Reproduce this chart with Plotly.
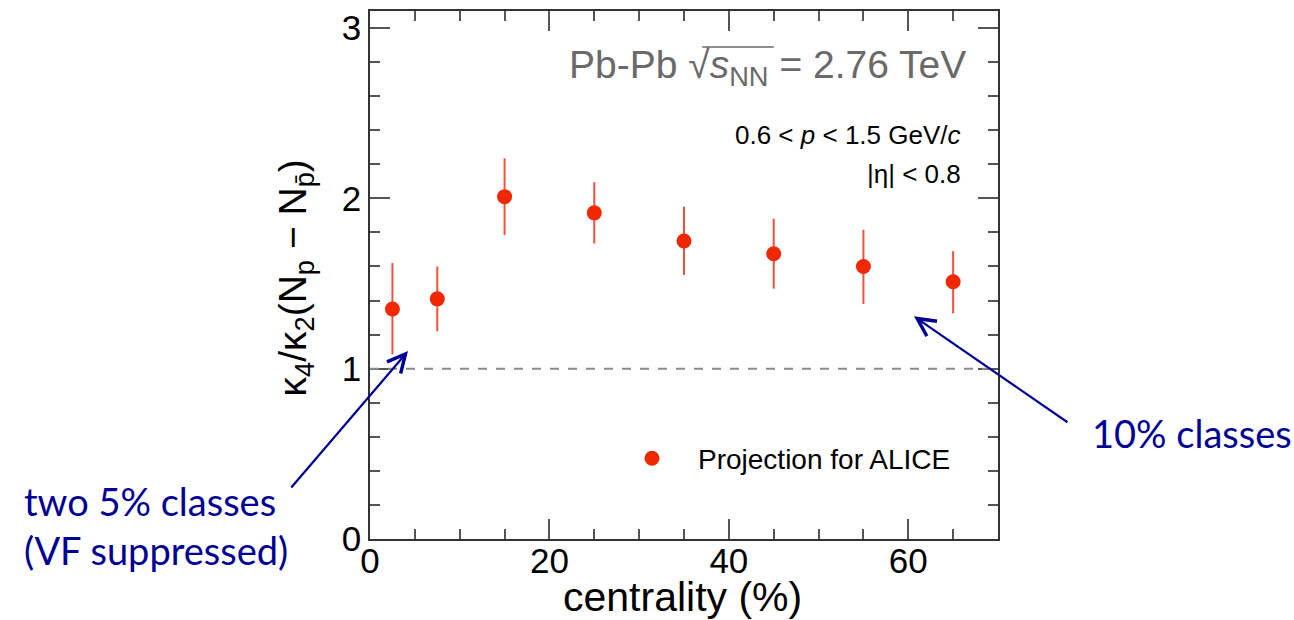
import plotly.graph_objects as go

# Centrality classes (%) and projected kappa4/kappa2 for net protons
centrality = [2.5, 7.5, 15, 25, 35, 45, 55, 65]
ratio = [1.35, 1.41, 2.01, 1.915, 1.75, 1.675, 1.60, 1.51]
err_up = [0.27, 0.19, 0.225, 0.18, 0.20, 0.205, 0.215, 0.18]
err_down = [0.265, 0.19, 0.225, 0.18, 0.20, 0.205, 0.22, 0.185]

x_ticks = [0, 20, 40, 60]
y_ticks = [0, 1, 2, 3]
baseline = 1.0

FONT = "Liberation Sans, Arial, Helvetica, sans-serif"
RED = "#f02800"
NAVY = "#000094"
GREY_TXT = "#6a6a6a"

fig = go.Figure()
fig.add_trace(go.Scatter(
    x=centrality, y=ratio, mode="markers",
    name="Projection for ALICE",
    marker=dict(color=RED, size=15),
    error_y=dict(type="data", symmetric=False, array=err_up, arrayminus=err_down,
                 color="#f2503c", thickness=2, width=0),
))

# Poisson baseline
fig.add_shape(type="line", xref="paper", x0=0, x1=1, yref="y", y0=baseline, y1=baseline,
              line=dict(color="#8a8a8a", width=2, dash="dash"))

# bar of the square-root sign over s_NN
fig.add_shape(type="line", xref="paper", yref="paper", x0=0.529, x1=0.643,
              y0=0.932, y1=0.932, line=dict(color=GREY_TXT, width=1.5))

axis_common = dict(showline=True, linecolor="#333333", linewidth=1.5, mirror="allticks",
                   ticks="inside", ticklen=20, tickwidth=1.5, tickcolor="#555555",
                   showgrid=False, zeroline=False,
                   tickfont=dict(family=FONT, size=35, color="black"))

fig.update_xaxes(range=[0, 70], tickvals=x_ticks, ticktext=[str(v) for v in x_ticks],
                 ticklabelstandoff=-10,
                 minor=dict(dtick=5, tick0=0, ticks="inside", ticklen=10, tickwidth=1.5,
                            tickcolor="#555555", showgrid=False),
                 **axis_common)
fig.update_yaxes(range=[0, 3.1], tickvals=y_ticks, ticktext=[str(v) for v in y_ticks],
                 minor=dict(dtick=0.2, tick0=0, ticks="inside", ticklen=10, tickwidth=1.5,
                            tickcolor="#555555", showgrid=False),
                 **axis_common)

annotations = [
    dict(text="centrality (%)", x=0.498, y=-0.109, xref="paper", yref="paper",
         showarrow=False, font=dict(family=FONT, size=41, color="black"),
         xanchor="center", yanchor="middle"),
    dict(text="κ<sub>4</sub>/κ<sub>2</sub>(N<sub>p</sub> − N<sub>p̄</sub>)",
         x=-0.1194, y=0.4934, xref="paper", yref="paper", textangle=-90,
         showarrow=False, font=dict(family=FONT, size=39, color="black"),
         xanchor="center", yanchor="middle"),
    dict(text="Pb-Pb √<i>s</i><sub>NN</sub> = 2.76 TeV", x=0.952, y=0.8927,
         xref="paper", yref="paper", showarrow=False,
         font=dict(family=FONT, size=39, color=GREY_TXT),
         xanchor="right", yanchor="middle"),
    dict(text="0.6 < <i>p</i> < 1.5 GeV/<i>c</i>", x=0.944, y=0.7646,
         xref="paper", yref="paper", showarrow=False,
         font=dict(family=FONT, size=26, color="black"),
         xanchor="right", yanchor="middle"),
    dict(text="|η| < 0.8", x=0.944, y=0.6911,
         xref="paper", yref="paper", showarrow=False,
         font=dict(family=FONT, size=26, color="black"),
         xanchor="right", yanchor="middle"),
    dict(text="10% classes", x=1.1465, y=0.2015, xref="paper", yref="paper",
         showarrow=False, font=dict(family="Lato, sans-serif", size=38, color=NAVY),
         xanchor="left", yanchor="middle"),
    dict(text="two 5% classes<br>(VF suppressed)", x=-0.554, y=0.0264,
         xref="paper", yref="paper", showarrow=False, align="left",
         font=dict(family="Lato, sans-serif", size=38, color=NAVY),
         xanchor="left", yanchor="middle"),
    # pointer arrows
    dict(text="", x=0.0605, y=0.3559, xref="paper", yref="paper",
         showarrow=True, ax=-118, ay=138, arrowhead=5, arrowsize=1.6,
         arrowwidth=2.2, arrowcolor=NAVY, standoff=0, startstandoff=0),
    dict(text="", x=0.8662, y=0.4218, xref="paper", yref="paper",
         showarrow=True, ax=155, ay=107, arrowhead=5, arrowsize=1.6,
         arrowwidth=2.2, arrowcolor=NAVY, standoff=0, startstandoff=0),
]

fig.update_layout(
    width=1294, height=620,
    margin=dict(l=370, r=296, t=8, b=81),
    paper_bgcolor="white", plot_bgcolor="white",
    annotations=annotations,
    showlegend=True,
    legend=dict(x=0.3758, y=0.1525, xanchor="left", yanchor="middle",
                bgcolor="rgba(0,0,0,0)", font=dict(family=FONT, size=28, color="black"),
                itemwidth=82),
)

fig.write_html("out.html")
